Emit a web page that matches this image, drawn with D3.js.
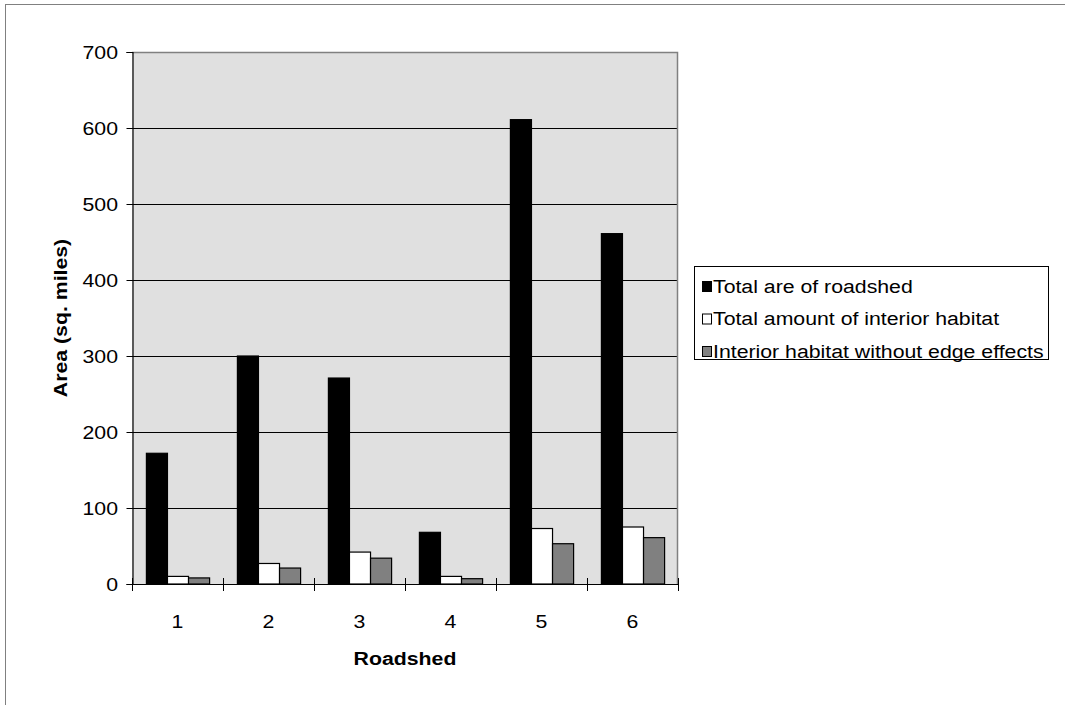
<!DOCTYPE html>
<html>
<head>
<meta charset="utf-8">
<script src="https://cdn.jsdelivr.net/npm/d3@7"></script>
<style>
  html, body { margin: 0; padding: 0; background: #fff; }
  svg { display: block; font-family: "Liberation Sans", Arial, sans-serif; }
</style>
</head>
<body>
<svg id="chart" width="1065" height="705"></svg>
<script>
// Roadshed areas (sq. miles)
const categories = ["1", "2", "3", "4", "5", "6"];
const seriesNames = [
  "Total are of roadshed",
  "Total amount of interior habitat",
  "Interior habitat without edge effects"
];
const totalArea = [172, 300, 271, 68, 611, 461];
const interiorHabitat = [10, 27, 42, 10, 73, 75];
const interiorNoEdge = [8, 21, 34, 7, 53, 61];
const yTicks = [0, 100, 200, 300, 400, 500, 600, 700];

const seriesValues = [totalArea, interiorHabitat, interiorNoEdge];
const seriesFill = ["#000000", "#ffffff", "#808080"];

// text is set slightly wide, as in the original chart's typeface
const FS = 19, SX = 1.12;

const svg = d3.select("#chart");

function label(parent, x, y, str, opts = {}) {
  const g = parent.append("g")
    .attr("transform", `translate(${x},${y})${opts.rotate ? ` rotate(${opts.rotate})` : ""} scale(${SX},1)`);
  return g.append("text")
    .attr("text-anchor", opts.anchor || "start")
    .attr("dy", "0.35em")
    .attr("font-size", FS)
    .attr("font-weight", opts.bold ? "bold" : "normal")
    .attr("fill", "#000")
    .text(str);
}

// outer chart frame
svg.append("rect")
  .attr("x", 5.5).attr("y", 4.5)
  .attr("width", 1075).attr("height", 715)
  .attr("fill", "#fff").attr("stroke", "#808080").attr("stroke-width", 1);

const plot = { left: 132, top: 52, right: 678, bottom: 584 };

const x = d3.scaleBand().domain(categories).range([plot.left, plot.right]).paddingInner(0).paddingOuter(0);
const xs = d3.scaleBand().domain(d3.range(3)).range([0, x.bandwidth()]).paddingOuter(0.66).paddingInner(0);
const y = d3.scaleLinear().domain([0, 700]).range([plot.bottom, plot.top]);

// plot background
svg.append("rect")
  .attr("x", plot.left).attr("y", plot.top)
  .attr("width", plot.right - plot.left).attr("height", plot.bottom - plot.top)
  .attr("fill", "#e0e0e0");

// horizontal gridlines
svg.append("g").selectAll("line")
  .data(yTicks.filter(d => d > 0 && d < 700))
  .join("line")
  .attr("x1", plot.left).attr("x2", plot.right)
  .attr("y1", d => Math.round(y(d)) + 0.5).attr("y2", d => Math.round(y(d)) + 0.5)
  .attr("stroke", "#000").attr("stroke-width", 1);

// top and right frame of plot area
svg.append("path")
  .attr("d", `M${plot.left},${plot.top + 0.5}H${plot.right - 0.5}V${plot.bottom}`)
  .attr("fill", "none").attr("stroke", "#808080").attr("stroke-width", 1.5);

// bars
const groups = svg.append("g").selectAll("g")
  .data(categories)
  .join("g")
  .attr("transform", d => `translate(${x(d)},0)`);

groups.selectAll("rect")
  .data((c, ci) => seriesValues.map((vals, si) => ({ si, v: vals[ci] })))
  .join("rect")
  .attr("x", d => xs(d.si) + 0.5)
  .attr("width", xs.bandwidth())
  .attr("y", d => y(d.v))
  .attr("height", d => y(0) - y(d.v))
  .attr("fill", d => seriesFill[d.si])
  .attr("stroke", "#000").attr("stroke-width", 1.2);

// y axis (line and ticks from d3, labels drawn below)
const yAxis = d3.axisLeft(y).tickValues(yTicks).tickSize(6).tickFormat("");
const gy = svg.append("g")
  .attr("transform", `translate(${plot.left + 0.5},0)`)
  .call(yAxis);
gy.select(".domain").attr("stroke", "#000").attr("stroke-width", 1.2);
gy.selectAll(".tick line").attr("stroke", "#000");
yTicks.forEach(t => label(svg, 118, y(t), String(t), { anchor: "end" }));

// x axis: ticks at category boundaries crossing the axis
const gx = svg.append("g");
gx.append("line")
  .attr("x1", plot.left).attr("x2", plot.right)
  .attr("y1", plot.bottom + 0.5).attr("y2", plot.bottom + 0.5)
  .attr("stroke", "#000").attr("stroke-width", 1.2);
const bounds = categories.map(c => x(c)).concat([x(categories[categories.length - 1]) + x.bandwidth()]);
gx.selectAll("line.tk")
  .data(bounds)
  .join("line")
  .attr("class", "tk")
  .attr("x1", d => Math.round(d) + 0.5).attr("x2", d => Math.round(d) + 0.5)
  .attr("y1", plot.bottom - 6).attr("y2", plot.bottom + 7)
  .attr("stroke", "#000");
categories.forEach(c => label(gx, x(c) + x.bandwidth() / 2, 621, c, { anchor: "middle" }));

// axis titles
label(svg, (plot.left + plot.right) / 2, 658, "Roadshed", { anchor: "middle", bold: true });
label(svg, 60, (plot.top + plot.bottom) / 2, "Area (sq. miles)", { anchor: "middle", bold: true, rotate: -90 });

// legend
const legend = svg.append("g").attr("transform", "translate(694,266)");
legend.append("rect")
  .attr("x", 0.5).attr("y", 0.5)
  .attr("width", 354).attr("height", 93)
  .attr("fill", "#fff").attr("stroke", "#000").attr("stroke-width", 1);
seriesNames.forEach((name, i) => {
  const cy = 20 + i * 32.5;
  legend.append("rect")
    .attr("x", 8.5).attr("y", cy - 4.5)
    .attr("width", 9).attr("height", 10)
    .attr("fill", seriesFill[i])
    .attr("stroke", "#000").attr("stroke-width", 1);
  label(legend, 19, cy, name);
});
</script>
</body>
</html>
